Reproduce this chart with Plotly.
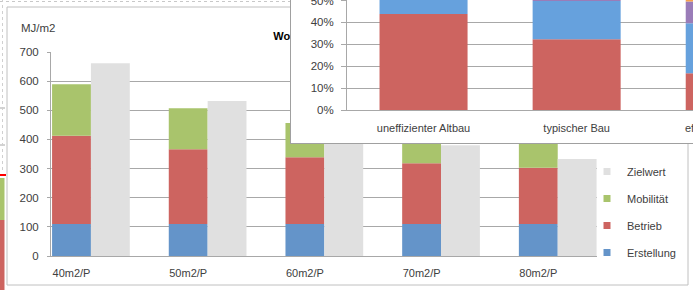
import plotly.graph_objects as go
import numpy as np

W, H = 693, 290

# ---- main chart data ----
categories = ["40m2/P", "50m2/P", "60m2/P", "70m2/P", "80m2/P"]
erstellung = [110, 110, 110, 110, 110]
betrieb = [303, 256, 229, 208, 193]
mobilitaet = [176, 141, 117, 100, 88]
zielwert = [661, 532, 443, 380, 333]
y_ticks = [0, 100, 200, 300, 400, 500, 600, 700]

# ---- inset chart data (percent) ----
inset_categories = ["uneffizienter Altbau", "typischer Bau", "effizienter Neubau"]
inset_red = [43.8, 32.3, 16.8]
inset_blue = [26.0, 17.5, 22.8]
inset_purple = [10.0, 9.0, 10.0]
inset_orange = [8.0, 9.0, 10.0]
inset_ticks = [0, 10, 20, 30, 40, 50]
inset_ticktext = ["0%", "10%", "20%", "30%", "40%", "50%"]

C_BLUE = "#6494c9"
C_RED = "#cd6460"
C_GREEN = "#a9c46c"
C_GRAY = "#e0e0e0"
C_IBLUE = "#66a1dd"
C_PURPLE = "#9a7cb8"
C_ORANGE = "#f6a04c"
GRID = "#a8a8a8"
TXT = "#404040"
FONT = "Liberation Sans, Arial, sans-serif"


def px(x):
    return x / W


def py(y):
    return 1 - y / H


xi = np.arange(len(categories))
e = np.array(erstellung)
b = np.array(betrieb)
m = np.array(mobilitaet)

fig = go.Figure()

bw = 0.333
# main stacked bars (explicit bases from the data)
fig.add_trace(go.Bar(x=xi, y=e, base=np.zeros(len(e)), width=bw, offset=-bw / 2, name="Erstellung",
                     marker=dict(color=C_BLUE, line=dict(width=0)), showlegend=False,
                     xaxis="x", yaxis="y"))
fig.add_trace(go.Bar(x=xi, y=b, base=e, width=bw, offset=-bw / 2, name="Betrieb",
                     marker=dict(color=C_RED, line=dict(width=0)), showlegend=False,
                     xaxis="x", yaxis="y"))
fig.add_trace(go.Bar(x=xi, y=m, base=e + b, width=bw, offset=-bw / 2, name="Mobilität",
                     marker=dict(color=C_GREEN, line=dict(width=0)), showlegend=False,
                     xaxis="x", yaxis="y"))
fig.add_trace(go.Bar(x=xi, y=zielwert, base=np.zeros(len(e)), width=bw, offset=bw / 2, name="Zielwert",
                     marker=dict(color=C_GRAY, line=dict(width=0)), showlegend=False,
                     xaxis="x", yaxis="y"))

# legend entries
for name, col in [("Zielwert", C_GRAY), ("Mobilität", C_GREEN), ("Betrieb", C_RED), ("Erstellung", C_BLUE)]:
    fig.add_trace(go.Scatter(x=[None], y=[None], mode="markers", name=name, legendgroup=name,
                             marker=dict(symbol="square", size=7, color=col),
                             xaxis="x", yaxis="y"))

# main chart title in its own small subplot (partly hidden behind the inset)
fig.add_trace(go.Scatter(x=[0.052], y=[0.5], mode="text", text=["<b>Wohnen</b>"],
                         textposition="middle right", cliponaxis=False, showlegend=False,
                         textfont=dict(size=11, color="#000000", family=FONT),
                         xaxis="x2", yaxis="y2", hoverinfo="skip"))

# inset box subplot (white background + border)
fig.add_trace(go.Scatter(x=[None], y=[None], mode="markers", showlegend=False,
                         xaxis="x3", yaxis="y3", hoverinfo="skip"))

# inset chart bars
ix = np.arange(len(inset_categories))
r_ = np.array(inset_red)
bl_ = np.array(inset_blue)
pu_ = np.array(inset_purple)
iw = 0.575
for name, vals, base, col in [("Heizwärme", r_, np.zeros(3), C_RED),
                              ("Warmwasser", bl_, r_, C_IBLUE),
                              ("Hilfsenergie", pu_, r_ + bl_, C_PURPLE),
                              ("Haushaltsstrom", np.array(inset_orange), r_ + bl_ + pu_, C_ORANGE)]:
    fig.add_trace(go.Bar(x=ix, y=vals, base=base, width=iw, name=name,
                         marker=dict(color=col, line=dict(width=0)), showlegend=False,
                         xaxis="x4", yaxis="y4"))

hidden = dict(visible=False, range=[0, 1], fixedrange=True, automargin=False)

# inset x range: the third category sits partly beyond the right edge
x4_range = [-0.5, 1.76]
x4_px0, x4_px1 = 347, W
inset_cat_px = [x4_px0 + (i - x4_range[0]) / (x4_range[1] - x4_range[0]) * (x4_px1 - x4_px0) for i in ix]

fig.update_layout(
    width=W, height=H, autosize=False,
    margin=dict(l=0, r=0, t=0, b=0, pad=0),
    paper_bgcolor="white", plot_bgcolor="white",
    barmode="overlay",
    font=dict(family=FONT, size=11, color=TXT),
    xaxis=dict(domain=[px(51), px(597)], range=[-0.1757, 4.503], tickvals=list(xi), ticktext=categories,
               showline=True, linecolor=GRID, linewidth=1, ticks="", showgrid=False, zeroline=False,
               ticklabelstandoff=7, anchor="y", automargin=False),
    yaxis=dict(domain=[py(256), py(52)], range=[0, 700], tickvals=y_ticks,
               showline=True, linecolor=GRID, linewidth=1, ticks="outside", ticklen=3, tickcolor=GRID,
               showgrid=True, gridcolor=GRID, gridwidth=1, zeroline=False,
               ticklabelstandoff=6, anchor="x", tickfont=dict(size=11.5), automargin=False),
    xaxis2=dict(domain=[px(262), px(480)], anchor="y2", **hidden),
    yaxis2=dict(domain=[py(48), py(26)], anchor="x2", **hidden),
    xaxis3=dict(domain=[px(291), 1], range=[0, 1], showline=True, linecolor="#a0a0a0", linewidth=1,
                showticklabels=False, ticks="", showgrid=False, zeroline=False, anchor="y3",
                automargin=False),
    yaxis3=dict(domain=[py(143), 1], range=[0, 1], showline=True, linecolor="#a0a0a0", linewidth=1,
                showticklabels=False, ticks="", showgrid=False, zeroline=False, anchor="x3",
                automargin=False),
    xaxis4=dict(domain=[px(x4_px0), 1], range=x4_range, tickvals=list(ix[:2]), ticktext=inset_categories[:2],
                showline=True, linecolor=GRID, linewidth=1, ticks="", showgrid=False, zeroline=False,
                ticklabelstandoff=8, anchor="y4", automargin=False, ticklabeloverflow="allow"),
    yaxis4=dict(domain=[py(110), 1], range=[0, 50.23], tickvals=inset_ticks, ticktext=inset_ticktext,
                showline=True, linecolor=GRID, linewidth=1, ticks="outside", ticklen=5, tickcolor=GRID,
                showgrid=True, gridcolor=GRID, gridwidth=1, zeroline=False,
                ticklabelstandoff=5, anchor="x4", tickfont=dict(size=11.5), automargin=False,
                ticklabeloverflow="allow"),
    legend=dict(x=px(587), y=py(157), xanchor="left", yanchor="top", traceorder="grouped",
                tracegroupgap=8, itemwidth=30, font=dict(size=11, color=TXT),
                bgcolor="rgba(0,0,0,0)", borderwidth=0),
    annotations=[
        dict(text="MJ/m2", x=px(19), y=py(28), xref="paper", yref="paper",
             xanchor="left", yanchor="middle", showarrow=False,
             font=dict(size=11.5, color=TXT)),
        # third inset category label (its tick lies beyond the visible range)
        dict(text=inset_categories[2], x=px(inset_cat_px[2]), y=py(128), xref="paper", yref="paper",
             xanchor="center", yanchor="middle", showarrow=False,
             font=dict(size=11, color=TXT)),
    ],
    shapes=[
        # outer chart frame
        dict(type="rect", xref="paper", yref="paper", x0=px(7), y0=py(285), x1=px(688), y1=py(7),
             line=dict(color="#c0c0c0", width=1), fillcolor="rgba(0,0,0,0)", layer="below"),
        # neighbouring spreadsheet fragments at left edge
        dict(type="rect", xref="paper", yref="paper", x0=0, x1=px(4.5), y0=py(220), y1=py(178),
             line=dict(width=0), fillcolor=C_GREEN, layer="below"),
        dict(type="rect", xref="paper", yref="paper", x0=0, x1=px(4.5), y0=0, y1=py(220),
             line=dict(width=0), fillcolor=C_RED, layer="below"),
        dict(type="line", xref="paper", yref="paper", x0=0, x1=px(6), y0=py(175), y1=py(175),
             line=dict(color="#ff0000", width=2), layer="below"),
        dict(type="line", xref="paper", yref="paper", x0=0, x1=px(5), y0=py(108), y1=py(108),
             line=dict(color=GRID, width=1), layer="below"),
        dict(type="line", xref="paper", yref="paper", x0=0, x1=px(5), y0=py(145), y1=py(145),
             line=dict(color=GRID, width=1), layer="below"),
        dict(type="line", xref="paper", yref="paper", x0=0, x1=px(291), y0=py(1.5), y1=py(1.5),
             line=dict(color="#c8c8c8", width=1, dash="dot"), layer="below"),
        dict(type="line", xref="paper", yref="paper", x0=px(2.5), x1=px(2.5), y0=py(170), y1=1,
             line=dict(color="#d0d0d0", width=1, dash="dot"), layer="below"),
    ],
)

fig.write_html("out.html",
               config={"displayModeBar": False, "responsive": False},
               post_script="document.body.style.margin='0';document.body.style.padding='0';"
                           "document.body.style.overflow='hidden';")
